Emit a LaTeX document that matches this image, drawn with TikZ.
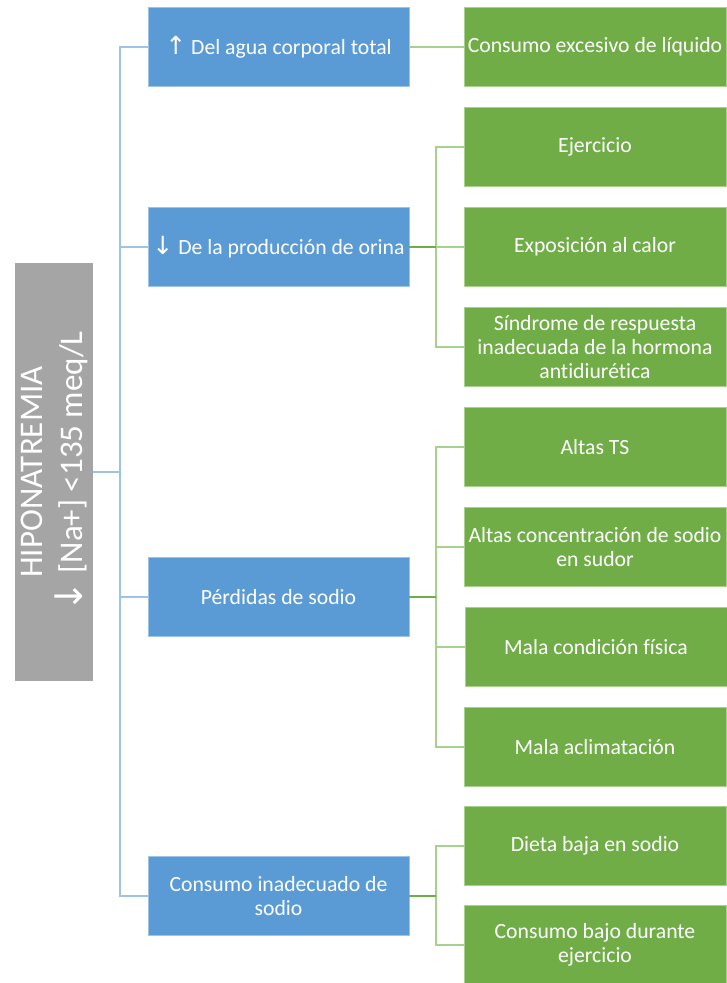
\documentclass[tikz,border=0pt]{standalone}
\usepackage{fontspec}
\setmainfont{Carlito}[Ligatures=NoCommon]
\newfontfamily\arrowfont{DejaVu Sans}
\definecolor{causeblue}{HTML}{5B9BD5}
\definecolor{factgreen}{HTML}{70AD47}
\definecolor{maingray}{HTML}{A5A5A5}
\definecolor{blueline}{HTML}{9DC3E6}
\definecolor{greenline}{HTML}{A9D18E}
\newcommand{\uparr}{{\arrowfont\fontsize{25}{24}\selectfont ↑}}
\newcommand{\downarr}{{\arrowfont\fontsize{25}{24}\selectfont ↓}}
\tikzset{
  causebox/.style={rectangle,fill=causeblue,draw=blueline,line width=0.8pt,minimum width=261pt,minimum height=79pt,align=center,text=white,font=\fontsize{21.7}{24}\selectfont},
  factbox/.style={rectangle,fill=factgreen,draw=greenline,line width=0.8pt,minimum width=262pt,minimum height=79pt,align=center,text=white,font=\fontsize{21.7}{24}\selectfont},
  bluelink/.style={blueline,line width=1.5pt},
  greenlink/.style={greenline,line width=1.5pt}
}
\begin{document}
\begin{tikzpicture}[x=1pt,y=-1pt]
\useasboundingbox[fill=white] (0,0) rectangle (727,983);

\node[rectangle,fill=maingray,minimum width=418pt,minimum height=78pt,rotate=90,align=center,text=white,font=\fontsize{33}{40}\selectfont](hipo) at (54,472) {HIPONATREMIA\\{\arrowfont\fontsize{38}{40}\selectfont ↓} [Na+] <135 meq/L};

\node[causebox](agua) at (278.5,47) {\uparr\ Del agua corporal total};
\node[causebox](orina) at (278.5,247) {\downarr\ De la producción de orina};
\node[causebox](perdidas) at (278.5,597) {Pérdidas de sodio};
\node[causebox](consumo) at (278.5,896) {Consumo inadecuado de\\sodio};

\node[factbox](liquido) at (595,47) {Consumo excesivo de líquido};
\node[factbox](ejercicio) at (595,147) {Ejercicio};
\node[factbox](calor) at (595,247) {Exposición al calor};
\node[factbox](sindrome) at (595,347) {Síndrome de respuesta\\inadecuada de la hormona\\antidiurética};
\node[factbox](ts) at (595,447) {Altas TS};
\node[factbox](sudor) at (595,547) {Altas concentración de sodio\\en sudor};
\node[factbox](fisica) at (596,647) {Mala condición física};
\node[factbox](aclim) at (595,747) {Mala aclimatación};
\node[factbox](dieta) at (595,846) {Dieta baja en sodio};
\node[factbox](bajo) at (595,945) {Consumo bajo durante\\ejercicio};

% trunk from the main box
\coordinate (trunk) at (120,472);
\coordinate (branch) at (436,0);
\draw[bluelink] (hipo.south) -- (trunk);
\foreach \c in {agua,orina,perdidas,consumo}
\draw[bluelink] (\c.west) -| (trunk);

\draw[greenlink] (agua.east) -- (liquido.west);
\foreach \c/\kids in {orina/{ejercicio,calor,sindrome},perdidas/{ts,sudor,fisica,aclim},consumo/{dieta,bajo}}{
\coordinate (j) at (\c.east -| branch);
\foreach \k in \kids
\draw[greenlink] (\k.west) -| (j);
\draw[factgreen,line width=1.5pt] (\c.east) -- (j);
}
\end{tikzpicture}
\end{document}
